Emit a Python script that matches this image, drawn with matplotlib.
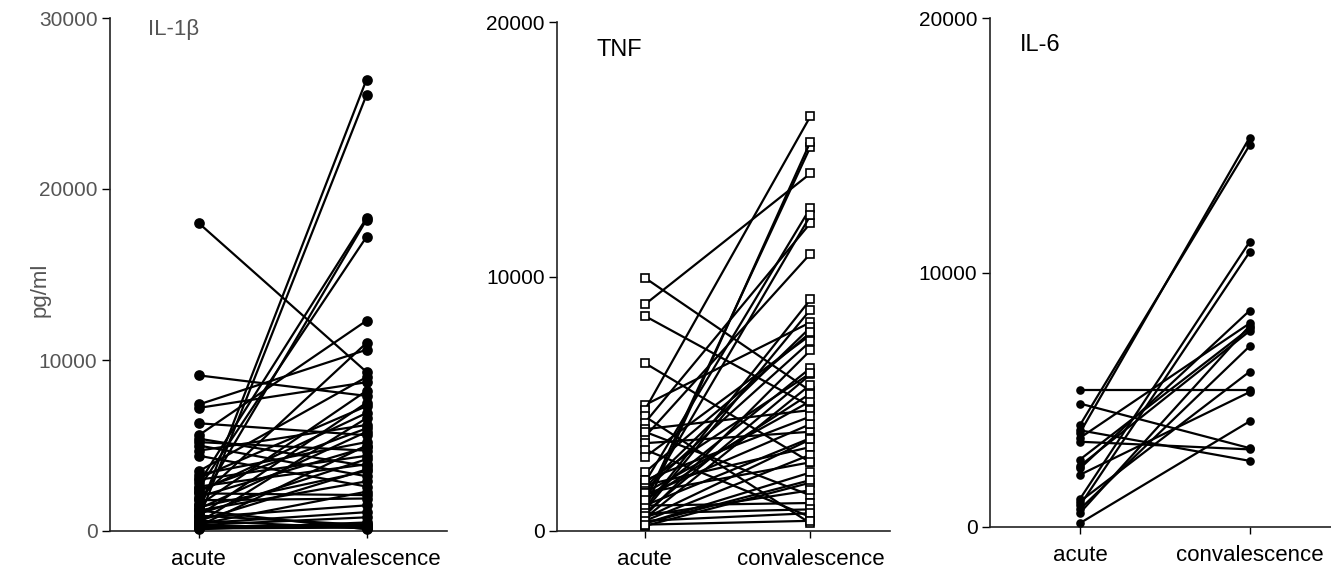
import matplotlib.pyplot as plt

plt.rcParams['font.family'] = ['Liberation Sans', 'DejaVu Sans']

groups = ['acute', 'convalescence']

# IL-1 beta, pg/ml (paired: acute -> convalescence)
il1_acute = [18000, 9100, 7400, 7200, 6300, 5600, 5400, 5200, 5000, 4700,
             4400, 3500, 3300, 3100, 3000, 2800, 2600, 2500, 2300, 2200,
             2000, 1900, 1800, 1600, 1500, 1400, 1300, 1200, 1100, 1000,
             900, 800, 700, 600, 500, 450, 400, 350, 300, 250,
             200, 150, 100, 300, 600, 900, 1200, 2400]
il1_conv = [9300, 7900, 10600, 8700, 5600, 12300, 3800, 4700, 3200, 6200,
            2600, 9000, 5200, 7300, 4400, 18300, 3900, 17200, 6900, 2100,
            4900, 11000, 1900, 18200, 8200, 3500, 5800, 2900, 26400, 4200,
            7500, 1500, 25500, 3600, 6600, 1100, 2300, 800, 5000, 300,
            400, 200, 500, 250, 150, 350, 100, 6000]

# TNF, pg/ml
tnf_acute = [9950, 8900, 8450, 6600, 4950, 4750, 4500, 4250, 3700, 3450,
             3200, 2900, 1900, 1800, 1700, 1600, 1500, 1400, 1300, 1200,
             1100, 1000, 900, 850, 800, 700, 600, 500, 400, 300,
             200, 4000, 3900, 1900, 1500, 1000, 700, 500, 300, 2300,
             2000, 1200, 600, 400, 250]
tnf_conv = [5500, 14050, 4900, 2700, 8200, 16300, 300, 12100, 10900, 3900,
            550, 7700, 12700, 3300, 8000, 7450, 5100, 4200, 12400, 6400,
            15100, 3650, 9100, 15300, 8700, 6150, 7100, 5750, 3000, 2300,
            1900, 4750, 1400, 6200, 2700, 1100, 850, 3600, 2000, 7800,
            4500, 5400, 1600, 700, 400]

# IL-6, pg/ml
il6_acute = [5400, 4850, 4000, 3800, 3700, 3500, 3350, 2650, 2400, 2300,
             2050, 1100, 1000, 850, 700, 550, 150]
il6_conv = [5400, 3100, 15000, 2600, 15300, 8000, 3050, 7800, 7700, 8500,
            5300, 11200, 6100, 10800, 7100, 7900, 4150]

fig = plt.figure(figsize=(13.31, 5.70), dpi=100)

panels = [
    # name, acute, conv, rect, ymax, marker, ms, mfc, title pos, title size, label colour
    ('IL-1\u03b2', il1_acute, il1_conv, [110/1331, 39/570, 337/1331, 513/570], 30000,
     'o', 6.5, 'black', (0.113, 0.977), 16, '#555555'),
    ('TNF', tnf_acute, tnf_conv, [557/1331, 39/570, 333/1331, 509/570], 20000,
     's', 5.5, 'white', (0.12, 0.945), 17, 'black'),
    ('IL-6', il6_acute, il6_conv, [990/1331, 43/570, 341/1331, 509/570], 20000,
     'o', 5, 'black', (0.088, 0.947), 17, 'black'),
]

for name, acute, conv, rect, ymax, mk, ms, mfc, tpos, tsize, lc in panels:
    ax = fig.add_axes(rect)
    for a, c in zip(acute, conv):
        ax.plot([0, 1], [a, c], color='black', lw=1.6, marker=mk, ms=ms,
                mfc=mfc, mec='black', mew=1.2, clip_on=False, zorder=3)
    ax.set_xlim(-0.53, 1.48)
    ax.set_ylim(0, ymax)
    ax.set_yticks(range(0, ymax + 1, 10000))
    ax.set_xticks([0, 1])
    ax.set_xticklabels(groups)
    for s in ['top', 'right']:
        ax.spines[s].set_visible(False)
    for s in ['left', 'bottom']:
        ax.spines[s].set_linewidth(1.2)
        ax.spines[s].set_color('#222222')
    ax.tick_params(axis='y', length=6, width=1.0, pad=3, labelsize=15, labelcolor=lc)
    ax.tick_params(axis='x', length=5, width=1.0, pad=8, labelsize=16)
    ax.text(tpos[0], tpos[1], name, transform=ax.transAxes, fontsize=tsize,
            color=lc, ha='left', va='center')

fig.text(40/1331, 1 - 290/570, 'pg/ml', rotation=90, fontsize=16,
         color='#555555', ha='center', va='center')

fig.savefig('out.png', dpi=100)
